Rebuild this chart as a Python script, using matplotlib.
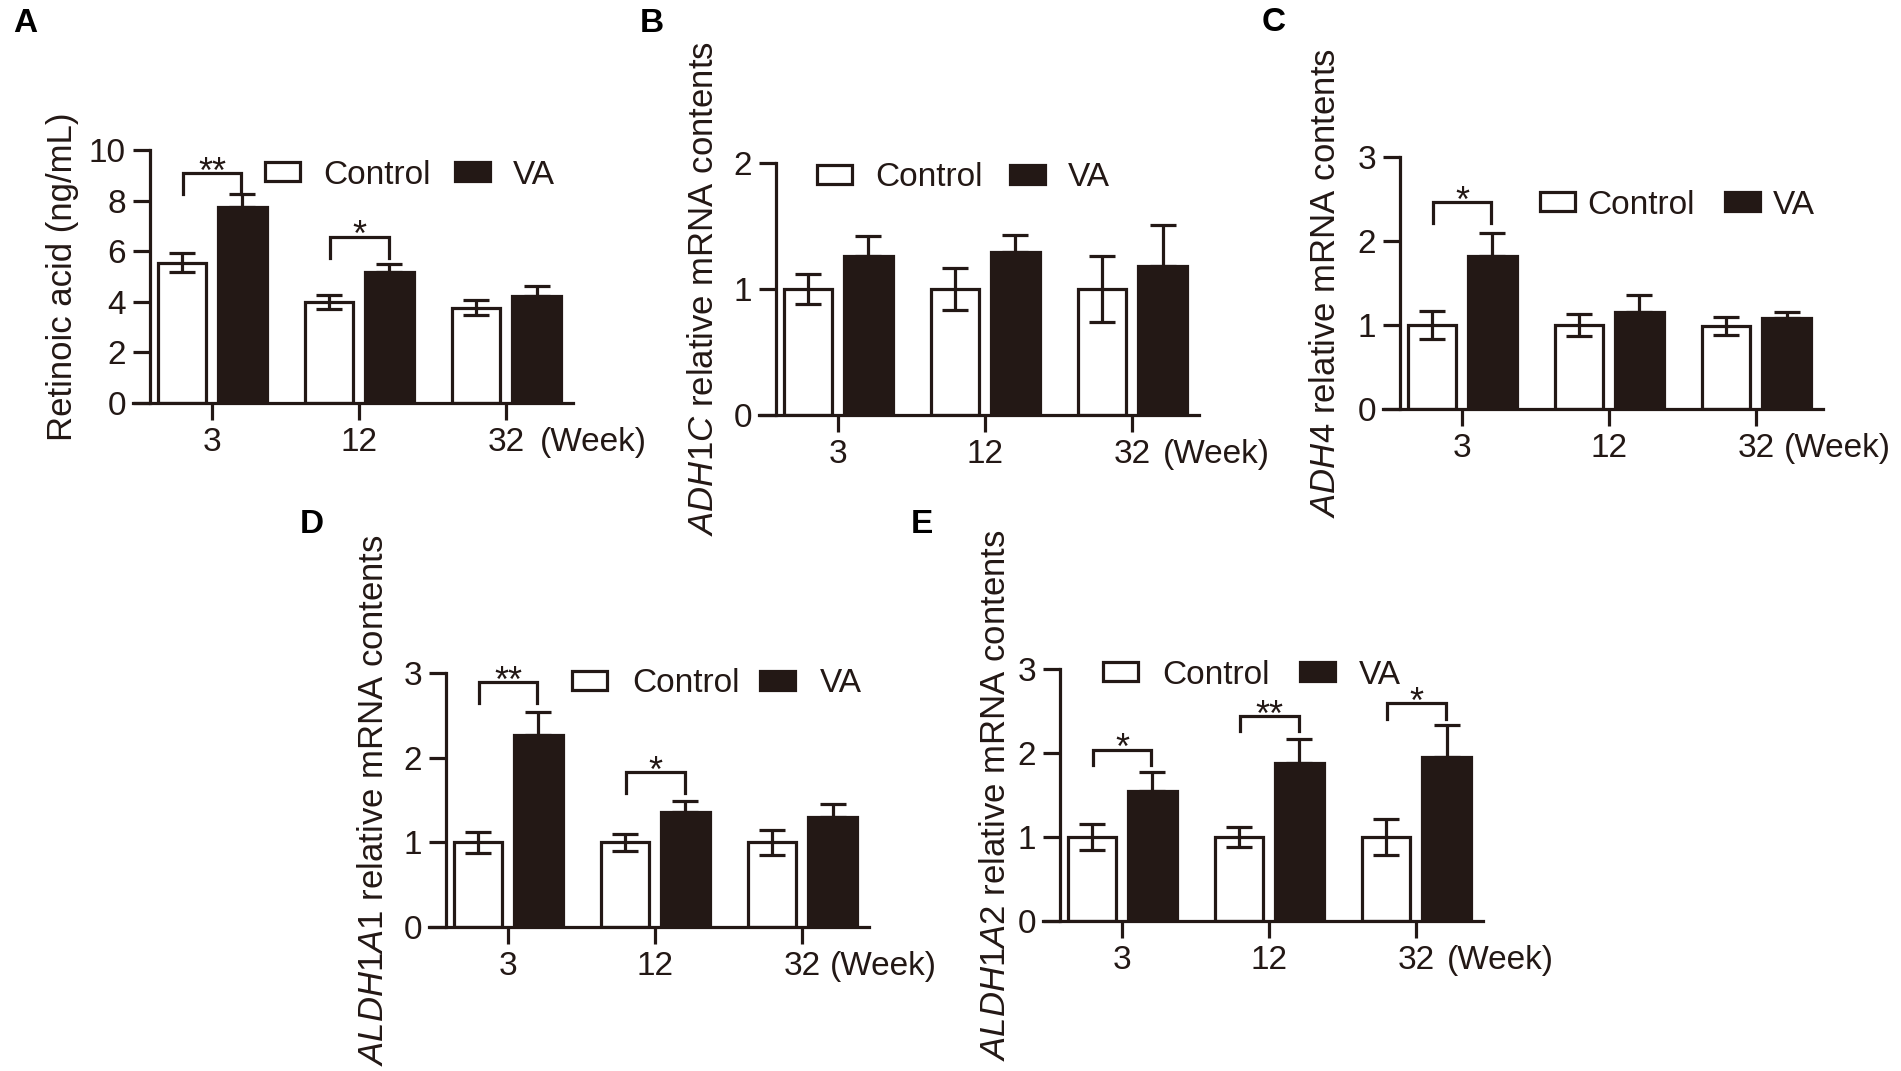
import numpy as np
import matplotlib.pyplot as plt
from matplotlib.patches import Patch

plt.rcParams['font.family'] = ['Liberation Sans', 'DejaVu Sans']
plt.rcParams['mathtext.fontset'] = 'custom'
plt.rcParams['mathtext.rm'] = 'Liberation Sans'
plt.rcParams['mathtext.it'] = 'Liberation Sans:italic'

ink = '#231815'
W, H = 1901, 1071

weeks = ['3', '12', '32']
groups = ['Control', 'VA']

# A: retinoic acid (ng/mL)
ra_ctrl = [5.55, 4.00, 3.76]
ra_ctrl_sem = [0.38, 0.28, 0.30]
ra_va = [7.75, 5.17, 4.23]
ra_va_sem = [0.53, 0.34, 0.40]

# B: ADH1C
adh1c_ctrl = [1.0, 1.0, 1.0]
adh1c_ctrl_sem = [0.12, 0.17, 0.26]
adh1c_va = [1.26, 1.29, 1.18]
adh1c_va_sem = [0.16, 0.14, 0.33]

# C: ADH4
adh4_ctrl = [1.0, 1.0, 0.99]
adh4_ctrl_sem = [0.165, 0.13, 0.11]
adh4_va = [1.82, 1.15, 1.08]
adh4_va_sem = [0.27, 0.21, 0.075]

# D: ALDH1A1
aldh1a1_ctrl = [1.0, 1.0, 1.0]
aldh1a1_ctrl_sem = [0.125, 0.10, 0.15]
aldh1a1_va = [2.27, 1.36, 1.30]
aldh1a1_va_sem = [0.27, 0.13, 0.15]

# E: ALDH1A2
aldh1a2_ctrl = [1.0, 1.0, 1.0]
aldh1a2_ctrl_sem = [0.16, 0.12, 0.21]
aldh1a2_va = [1.55, 1.88, 1.95]
aldh1a2_va_sem = [0.22, 0.29, 0.38]

# significance brackets: (week index, bracket top, leg bottom, stars)
sig_a = [(0, 9.1, 8.25, '**'), (1, 6.58, 5.75, '*')]
sig_b = []
sig_c = [(0, 2.46, 2.22, '*')]
sig_d = [(0, 2.89, 2.645, '**'), (1, 1.83, 1.58, '*')]
sig_e = [(0, 2.04, 1.86, '*'), (1, 2.435, 2.26, '**'), (2, 2.59, 2.40, '*')]

fig = plt.figure(figsize=(W / 100, H / 100), dpi=100)


def panel(letter, box, lab_xy, ctrl, ctrl_sem, va, va_sem, yticks, ylabel, ylab_x,
          sig, leg_xy, htp, cs, week_off):
    left, top, bottom = box
    ax = fig.add_axes([left / W, 1 - bottom / H, 440 / W, (bottom - top) / H])
    x = np.arange(len(weeks))
    ax.bar(x - 0.205, ctrl, 0.33, color='white', edgecolor=ink, lw=2.3, zorder=2)
    ax.bar(x + 0.205, va, 0.33, color=ink, edgecolor=ink, lw=2.3, zorder=2)
    ax.errorbar(x - 0.205, ctrl, yerr=ctrl_sem, fmt='none', ecolor=ink,
                elinewidth=2.3, capsize=9.5, capthick=2.3, zorder=3)
    ax.errorbar(x + 0.205, va, yerr=[np.zeros(len(va)), va_sem], fmt='none',
                ecolor=ink, elinewidth=2.3, capsize=9.5, capthick=2.3, zorder=3)

    ymax = yticks[-1]
    ax.set_xlim(-0.54, 2.45)
    ax.set_ylim(0, ymax)
    for s in ['top', 'right']:
        ax.spines[s].set_visible(False)
    ax.spines['left'].set_position(('data', -0.42))
    ax.spines['left'].set_bounds(0, ymax)
    for s in ['left', 'bottom']:
        ax.spines[s].set_linewidth(2.3)
        ax.spines[s].set_color(ink)
    ax.set_xticks(x)
    ax.set_xticklabels(weeks)
    ax.set_yticks(yticks)
    ax.tick_params(direction='out', length=12.5, width=2.3, color=ink,
                   labelsize=24, labelcolor=ink, pad=5)
    ax.annotate('(Week)', xy=(2, 0), xycoords=('data', 'axes fraction'),
                xytext=(week_off / 1.389, -17.5), textcoords='offset points',
                ha='left', va='top', fontsize=24, color=ink)
    ax.set_ylabel(ylabel, fontsize=25, color=ink)
    ax.yaxis.set_label_coords(ylab_x, 0.5)

    for g, ytop, yleg, stars in sig:
        ax.plot([g - 0.2, g - 0.2, g + 0.2, g + 0.2], [yleg, ytop, ytop, yleg],
                color=ink, lw=2.3, clip_on=False, solid_joinstyle='miter')
        ax.annotate(stars, xy=(g, ytop), xytext=(0, -7), textcoords='offset points',
                    ha='center', va='baseline', fontsize=26, color=ink)

    handles = [Patch(facecolor='white', edgecolor=ink, lw=2.3, label=groups[0]),
               Patch(facecolor=ink, edgecolor=ink, lw=2.3, label=groups[1])]
    leg = ax.legend(handles=handles, loc='center left',
                    bbox_to_anchor=(leg_xy[0] / W, 1 - leg_xy[1] / H),
                    bbox_transform=fig.transFigure, ncol=2, frameon=False,
                    fontsize=24, handlelength=1.05, handleheight=0.48,
                    handletextpad=htp, columnspacing=cs, borderpad=0,
                    borderaxespad=0)
    for t in leg.get_texts():
        t.set_color(ink)

    # panel letter, positioned by its baseline
    fig.text(lab_xy[0] / W, 1 - lab_xy[1] / H, letter, fontsize=24,
             fontweight='bold', ha='left', va='baseline', color='black')
    return ax


panel('A', (132.6, 150, 403), (13, 32), ra_ctrl, ra_ctrl_sem, ra_va, ra_va_sem,
      [0, 2, 4, 6, 8, 10], 'Retinoic acid (ng/mL)', -0.122,
      sig_a, (265, 175), 0.7, 0.72, 33)
panel('B', (758.6, 163, 415), (640, 32), adh1c_ctrl, adh1c_ctrl_sem, adh1c_va,
      adh1c_va_sem, [0, 1, 2], r'$\mathit{ADH1C}$ relative mRNA contents', -0.088,
      sig_b, (817, 178), 0.7, 0.8, 30)
panel('C', (1382.6, 157, 409), (1262, 31), adh4_ctrl, adh4_ctrl_sem, adh4_va,
      adh4_va_sem, [0, 1, 2, 3], r'$\mathit{ADH4}$ relative mRNA contents', -0.092,
      sig_c, (1540, 205), 0.38, 0.9, 27)
panel('D', (428.6, 673, 927), (300, 533), aldh1a1_ctrl, aldh1a1_ctrl_sem,
      aldh1a1_va, aldh1a1_va_sem, [0, 1, 2, 3],
      r'$\mathit{ALDH1A1}$ relative mRNA contents', -0.088,
      sig_d, (572, 684), 0.75, 0.6, 27)
panel('E', (1042.6, 669, 921), (911, 533), aldh1a2_ctrl, aldh1a2_ctrl_sem,
      aldh1a2_va, aldh1a2_va_sem, [0, 1, 2, 3],
      r'$\mathit{ALDH1A2}$ relative mRNA contents', -0.070,
      sig_e, (1103, 675), 0.72, 0.9, 30)

fig.savefig('out.png', dpi=100)
